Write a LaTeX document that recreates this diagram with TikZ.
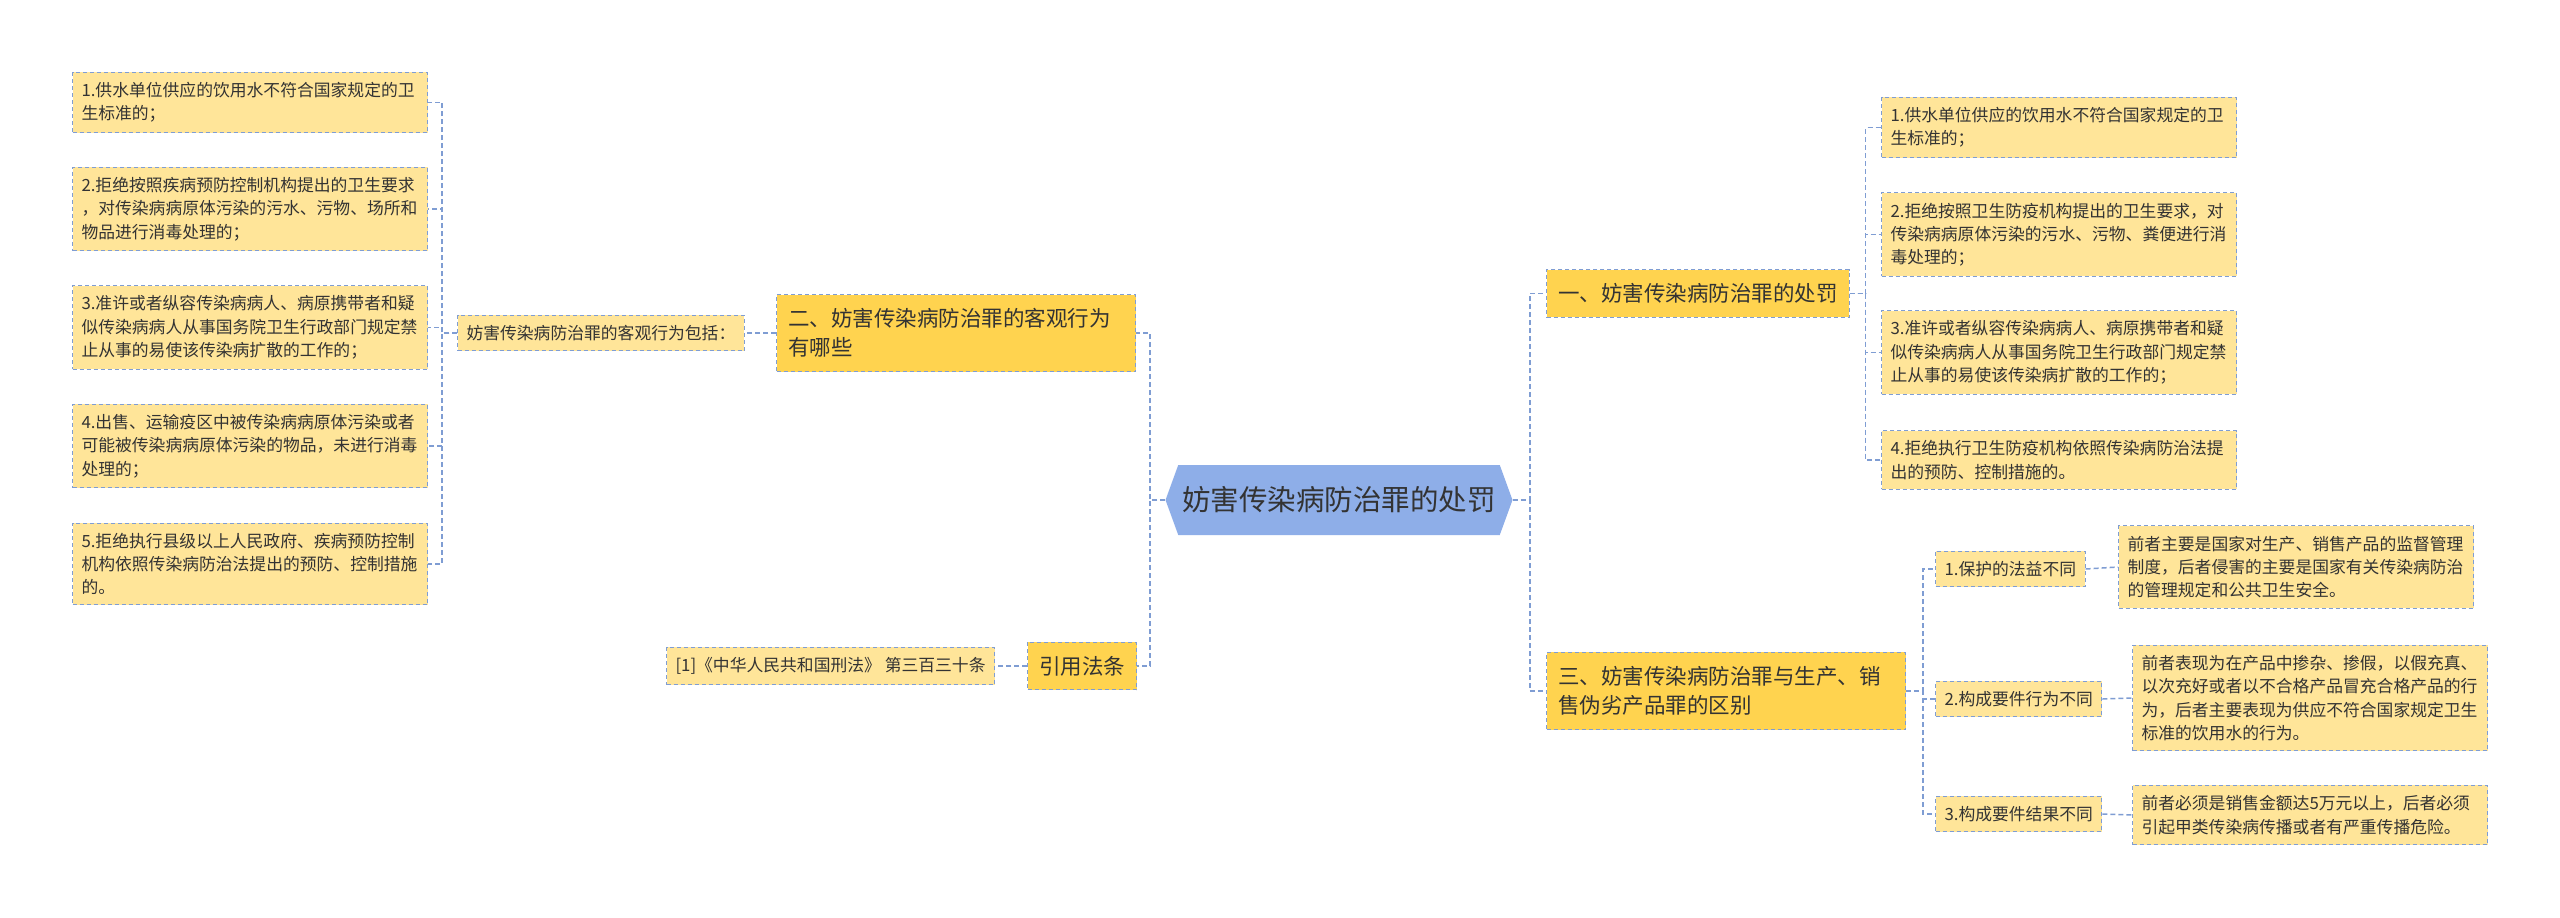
\documentclass[tikz,border=0pt]{standalone}
\usepackage{fontspec}
\setmainfont{Noto Sans CJK SC}
\usetikzlibrary{shapes.symbols}
\definecolor{leaffill}{HTML}{FFE599}
\definecolor{branchfill}{HTML}{FFD34F}
\definecolor{rootfill}{HTML}{8EAEE8}
\definecolor{linkblue}{HTML}{7F9DD3}
\definecolor{inktext}{HTML}{333333}
\begin{document}
\begin{tikzpicture}[x=0.5pt,y=-0.5pt,
  leaf/.style={draw=linkblue, line width=0.5pt, dash pattern=on 2pt off 1.5pt, fill=leaffill, text=inktext,
    font={\fontsize{8.4pt}{11.65pt}\selectfont}, inner xsep=4.5pt, inner ysep=5pt, anchor=west},
  leafwide/.style={leaf, text width=168.5pt, align=left},
  branch/.style={draw=linkblue, line width=0.5pt, dash pattern=on 2pt off 1.5pt, fill=branchfill, text=inktext,
    font={\fontsize{10.75pt}{14.5pt}\selectfont}, inner xsep=5.75pt, inner ysep=7pt, anchor=west},
  branchwide/.style={branch, text width=168pt, align=left},
  link/.style={draw=linkblue, line width=0.75pt, dash pattern=on 2.5pt off 1.5pt}]
\fill[white] (0,0) rectangle (2560,917);
\node[signal, signal to=west and east, signal pointer angle=140, fill=rootfill, text=inktext,
  font={\fontsize{14.25pt}{18pt}\selectfont}, inner xsep=2pt, minimum height=35pt] (root) at (1339,500) {妨害传染病防治罪的处罚};
\node[leafwide] (obj1) at (72,102.5) {1.供水单位供应的饮用水不符合国家规定的卫\\生标准的；};
\node[leafwide] (obj2) at (72,209) {2.拒绝按照疾病预防控制机构提出的卫生要求\\，对传染病病原体污染的污水、污物、场所和\\物品进行消毒处理的；};
\node[leafwide] (obj3) at (72,327.5) {3.准许或者纵容传染病病人、病原携带者和疑\\似传染病病人从事国务院卫生行政部门规定禁\\止从事的易使该传染病扩散的工作的；};
\node[leafwide] (obj4) at (72,446) {4.出售、运输疫区中被传染病病原体污染或者\\可能被传染病病原体污染的物品，未进行消毒\\处理的；};
\node[leafwide] (obj5) at (72,564) {5.拒绝执行县级以上人民政府、疾病预防控制\\机构依照传染病防治法提出的预防、控制措施\\的。};
\node[leaf] (incl) at (457,333) {妨害传染病防治罪的客观行为包括：};
\node[branchwide] (two) at (776,333) {二、妨害传染病防治罪的客观行为\\有哪些};
\node[leaf] (lawref) at (666,666) {[1]《中华人民共和国刑法》 第三百三十条};
\node[branch] (cite) at (1027,666) {引用法条};
\node[branch] (one) at (1546,293.5) {一、妨害传染病防治罪的处罚};
\node[leafwide] (pen1) at (1881,127.5) {1.供水单位供应的饮用水不符合国家规定的卫\\生标准的；};
\node[leafwide] (pen2) at (1881,234.5) {2.拒绝按照卫生防疫机构提出的卫生要求，对\\传染病病原体污染的污水、污物、粪便进行消\\毒处理的；};
\node[leafwide] (pen3) at (1881,352.5) {3.准许或者纵容传染病病人、病原携带者和疑\\似传染病病人从事国务院卫生行政部门规定禁\\止从事的易使该传染病扩散的工作的；};
\node[leafwide] (pen4) at (1881,460) {4.拒绝执行卫生防疫机构依照传染病防治法提\\出的预防、控制措施的。};
\node[branchwide] (three) at (1546,691) {三、妨害传染病防治罪与生产、销\\售伪劣产品罪的区别};
\node[leaf] (diff1) at (1935,569) {1.保护的法益不同};
\node[leaf] (diff2) at (1935,699) {2.构成要件行为不同};
\node[leaf] (diff3) at (1935,814) {3.构成要件结果不同};
\node[leafwide] (expl1) at (2118,567) {前者主要是国家对生产、销售产品的监督管理\\制度，后者侵害的主要是国家有关传染病防治\\的管理规定和公共卫生安全。};
\node[leafwide] (expl2) at (2132,698) {前者表现为在产品中掺杂、掺假，以假充真、\\以次充好或者以不合格产品冒充合格产品的行\\为，后者主要表现为供应不符合国家规定卫生\\标准的饮用水的行为。};
\node[leafwide] (expl3) at (2132,815) {前者必须是销售金额达5万元以上，后者必须\\引起甲类传染病传播或者有严重传播危险。};
\draw[link] (root.west) -- ++(-15,0) |- (two.east);
\draw[link] (root.west) -- ++(-15,0) |- (cite.east);
\draw[link] (root.east) -- ++(17,0) |- (one.west);
\draw[link] (root.east) -- ++(17,0) |- (three.west);
\draw[link] (two.west) -- (incl.east);
\draw[link] (incl.west) -- ++(-15,0) |- (obj1.east);
\draw[link] (incl.west) -- ++(-15,0) |- (obj2.east);
\draw[link] (incl.west) -- ++(-15,0) |- (obj3.east);
\draw[link] (incl.west) -- ++(-15,0) |- (obj4.east);
\draw[link] (incl.west) -- ++(-15,0) |- (obj5.east);
\draw[link] (cite.west) -- (lawref.east);
\draw[link] (one.east) -- ++(16,0) |- (pen1.west);
\draw[link] (one.east) -- ++(16,0) |- (pen2.west);
\draw[link] (one.east) -- ++(16,0) |- (pen3.west);
\draw[link] (one.east) -- ++(16,0) |- (pen4.west);
\draw[link] (three.east) -- ++(17,0) |- (diff1.west);
\draw[link] (three.east) -- ++(17,0) |- (diff2.west);
\draw[link] (three.east) -- ++(17,0) |- (diff3.west);
\draw[link] (diff1.east) -- (expl1.west);
\draw[link] (diff2.east) -- (expl2.west);
\draw[link] (diff3.east) -- (expl3.west);
\end{tikzpicture}
\end{document}
